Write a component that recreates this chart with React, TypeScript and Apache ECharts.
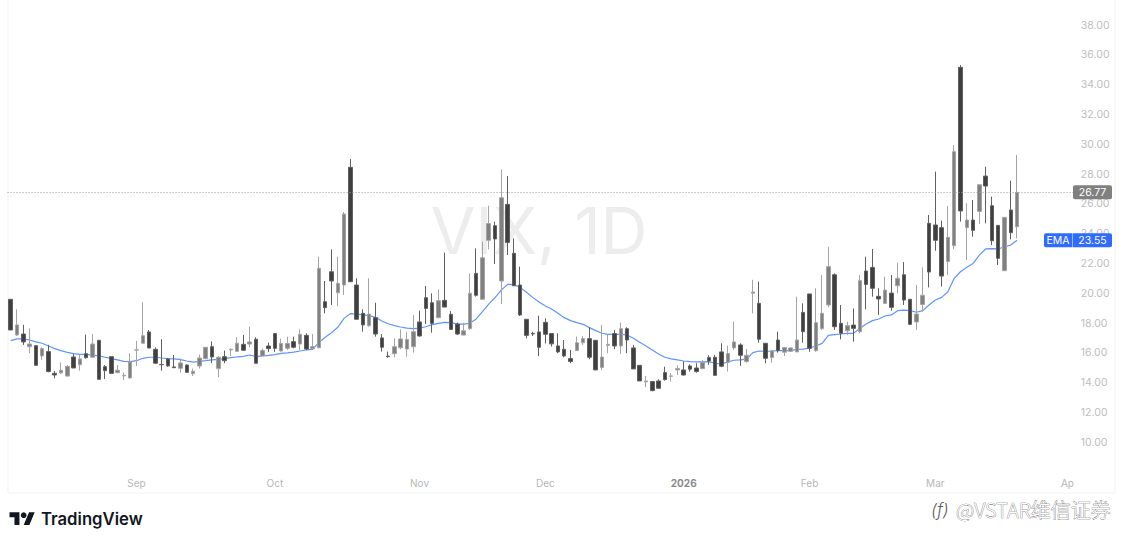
import React, { useEffect, useRef } from "react";
import * as echarts from "echarts";

const opens = [
  19.59, 17.2, 17.26, 16.41, 16.48, 15.79, 16.08, 14.62, 14.65, 14.44,
  15.72, 15.2, 15.94, 15.7, 16.84, 15.07, 15.74, 14.67, 14.45, 14.31,
  16.18, 16.64, 17.4, 16.23, 15.22, 15.59, 15.05, 14.96, 15.18, 14.6,
  15.12, 15.61, 16.41, 14.94, 15.74, 16.19, 16.1, 16.57, 16.59, 16.91,
  15.79, 16.46, 17.29, 16.12, 16.3, 16.75, 16.59, 17.17, 16.28, 16.34,
  19.43, 21.44, 20.03, 20.55, 28.45, 20.55, 18.65, 17.82, 18.36, 17.0,
  15.78, 15.94, 16.34, 16.25, 16.41, 18.07, 19.7, 19.36, 18.36, 19.52,
  18.58, 17.93, 17.19, 17.62, 21.33, 19.59, 23.55, 24.53, 20.82, 25.96,
  22.68, 20.55, 18.25, 17.3, 17.4, 18.04, 17.29, 16.46, 16.24, 15.61,
  16.15, 16.68, 16.95, 16.84, 15.01, 16.5, 17.29, 16.46, 17.62, 16.33,
  15.16, 14.05, 14.07, 14.11, 14.67, 14.42, 14.85, 14.85, 15.12, 14.98,
  14.94, 15.68, 15.7, 16.06, 15.36, 16.33, 16.53, 15.41, 20.0, 19.32,
  16.64, 15.68, 16.86, 16.04, 16.1, 16.06, 18.71, 19.95, 16.14, 17.62,
  19.21, 21.24, 17.98, 17.48, 17.86, 17.42, 21.49, 21.73, 19.79, 19.32,
  20.01, 20.5, 21.24, 19.59, 18.07, 19.25, 24.69, 24.58, 24.4, 22.12,
  23.19, 35.16, 24.4, 24.91, 25.49, 27.86, 25.87, 24.55, 21.51, 25.58,
  24.46,
];
const closes = [
  17.53, 17.87, 16.73, 16.59, 15.16, 16.28, 14.74, 14.51, 14.83, 15.09,
  14.98, 15.59, 15.67, 16.59, 14.22, 14.8, 14.62, 14.83, 14.49, 15.38,
  16.2, 17.15, 16.32, 15.3, 15.2, 15.12, 15.0, 15.32, 14.69, 14.76,
  15.65, 16.37, 15.72, 15.7, 15.47, 16.23, 16.64, 16.17, 16.73, 15.3,
  16.15, 16.28, 16.3, 16.63, 16.63, 16.37, 17.24, 16.25, 16.41, 21.67,
  19.03, 20.82, 20.66, 25.31, 20.77, 18.25, 17.87, 18.6, 17.26, 16.37,
  15.74, 16.41, 16.93, 16.9, 17.42, 17.13, 18.98, 17.98, 19.5, 19.07,
  17.57, 17.26, 17.48, 20.0, 19.86, 22.38, 24.67, 23.64, 26.41, 23.41,
  20.5, 18.54, 17.17, 17.26, 16.37, 17.24, 16.6, 16.06, 15.79, 15.41,
  16.68, 16.95, 15.7, 14.85, 15.72, 16.57, 16.46, 17.62, 16.86, 14.92,
  14.11, 14.11, 13.46, 13.62, 14.2, 14.45, 14.94, 14.51, 14.9, 14.74,
  15.36, 15.45, 14.49, 15.1, 15.95, 16.73, 15.83, 15.83, 20.08, 16.91,
  15.63, 16.13, 16.15, 16.35, 16.33, 16.86, 17.42, 16.3, 18.02, 18.65,
  21.78, 17.75, 17.31, 17.82, 17.64, 20.84, 20.59, 20.33, 19.61, 20.21,
  19.05, 21.0, 19.54, 17.91, 18.6, 19.86, 21.42, 23.55, 21.15, 23.75,
  29.5, 25.52, 24.91, 24.22, 27.28, 27.19, 23.52, 22.34, 25.09, 24.06,
  26.77,
];
const lows = [
  17.53, 17.13, 16.53, 15.97, 15.16, 15.52, 14.69, 14.29, 14.58, 14.4,
  14.98, 14.8, 15.61, 15.7, 14.22, 14.24, 14.62, 14.62, 14.18, 14.27,
  15.12, 16.59, 16.32, 15.25, 14.8, 15.07, 15.0, 14.67, 14.69, 14.44,
  14.94, 15.56, 15.3, 14.36, 15.3, 15.79, 16.06, 16.12, 16.37, 15.3,
  15.79, 16.06, 16.06, 16.08, 16.19, 16.3, 16.19, 16.19, 16.23, 16.3,
  18.65, 19.21, 19.14, 19.88, 20.77, 18.25, 17.42, 17.75, 17.08, 16.08,
  15.67, 15.69, 16.23, 15.74, 16.01, 17.08, 17.93, 17.35, 18.31, 19.07,
  17.53, 17.19, 17.19, 17.53, 19.77, 19.54, 22.94, 21.96, 19.27, 22.56,
  20.5, 18.47, 16.97, 17.13, 15.78, 16.63, 16.42, 15.97, 15.7, 15.3,
  16.15, 16.53, 15.57, 14.85, 14.85, 15.97, 16.24, 15.92, 15.97, 14.92,
  14.11, 13.69, 13.42, 13.58, 14.13, 14.07, 14.51, 14.47, 14.74, 14.67,
  14.89, 15.19, 14.47, 15.03, 14.74, 16.19, 15.12, 15.34, 18.65, 16.68,
  15.3, 15.34, 16.01, 15.79, 16.06, 16.06, 16.68, 16.07, 16.07, 17.53,
  19.05, 17.53, 16.9, 17.19, 16.75, 17.31, 18.92, 19.77, 18.54, 19.27,
  18.83, 20.0, 19.21, 17.86, 17.53, 18.76, 20.39, 22.85, 20.44, 21.22,
  22.94, 24.8, 22.23, 23.79, 24.64, 24.69, 23.23, 21.89, 21.51, 23.61,
  23.68,
];
const highs = [
  19.59, 18.92, 17.87, 17.64, 16.48, 16.37, 16.53, 14.78, 15.36, 15.18,
  15.92, 15.85, 17.22, 17.26, 16.84, 15.18, 15.74, 15.18, 14.67, 15.97,
  16.79, 19.39, 17.53, 16.37, 16.91, 15.63, 15.85, 15.63, 15.22, 14.94,
  15.88, 16.37, 16.77, 15.79, 16.15, 16.3, 17.04, 17.2, 17.76, 17.04,
  16.28, 16.68, 17.29, 16.95, 17.08, 17.08, 17.57, 17.31, 17.26, 22.45,
  20.82, 22.94, 22.45, 25.45, 29.0, 21.0, 18.92, 21.0, 19.36, 17.26,
  16.08, 16.97, 17.57, 17.42, 18.54, 18.83, 20.48, 19.99, 20.26, 22.72,
  18.8, 18.02, 18.02, 21.33, 23.01, 23.46, 25.87, 24.8, 28.31, 27.86,
  23.68, 21.78, 18.25, 17.42, 18.49, 18.31, 17.29, 17.31, 16.86, 16.19,
  17.09, 17.13, 17.71, 16.84, 17.87, 17.2, 17.53, 18.03, 17.71, 16.53,
  15.16, 14.45, 14.11, 14.22, 15.07, 14.63, 15.16, 15.43, 15.23, 15.3,
  15.52, 15.83, 15.86, 16.64, 16.48, 18.09, 16.64, 16.26, 20.9, 20.78,
  16.64, 16.19, 17.42, 16.35, 16.33, 19.77, 19.32, 19.95, 20.33, 21.22,
  23.12, 21.33, 19.21, 18.09, 18.98, 21.22, 22.45, 22.97, 20.33, 21.11,
  21.22, 22.05, 22.09, 19.59, 20.55, 21.73, 25.25, 28.16, 24.87, 25.85,
  29.95, 35.31, 26.03, 26.25, 27.28, 28.49, 26.48, 24.58, 25.09, 27.55,
  29.27,
];
const ema = [
  16.82, 16.93, 16.93, 16.86, 16.73, 16.64, 16.46, 16.28, 16.15, 16.03,
  15.94, 15.9, 15.9, 15.85, 15.79, 15.7, 15.61, 15.52, 15.43, 15.41,
  15.47, 15.63, 15.7, 15.7, 15.65, 15.61, 15.59, 15.54, 15.45, 15.38,
  15.43, 15.47, 15.52, 15.56, 15.61, 15.67, 15.72, 15.76, 15.85, 15.74,
  15.79, 15.83, 15.88, 15.96, 16.0, 16.05, 16.12, 16.19, 16.23, 16.68,
  17.04, 17.35, 17.71, 18.31, 18.63, 18.6, 18.54, 18.49, 18.38, 18.13,
  17.95, 17.82, 17.73, 17.66, 17.62, 17.66, 17.75, 17.89, 17.98, 18.04,
  18.02, 17.93, 17.93, 17.98, 18.27, 18.76, 19.27, 19.7, 20.21, 20.59,
  20.57, 20.39, 20.06, 19.72, 19.41, 19.14, 18.94, 18.65, 18.36, 18.16,
  18.03, 17.91, 17.69, 17.49, 17.31, 17.24, 17.24, 17.24, 17.2, 16.98,
  16.71, 16.46, 16.19, 15.92, 15.7, 15.59, 15.52, 15.45, 15.41, 15.39,
  15.39, 15.41, 15.3, 15.25, 15.39, 15.5, 15.52, 15.57, 16.01, 16.12,
  16.1, 16.12, 16.15, 16.15, 16.15, 16.23, 16.25, 16.32, 16.46, 16.63,
  17.17, 17.22, 17.26, 17.31, 17.31, 17.64, 17.93, 18.16, 18.27, 18.47,
  18.54, 18.83, 18.87, 18.83, 18.72, 18.83, 19.21, 19.54, 19.72, 20.1,
  21.0, 21.44, 21.74, 22.0, 22.56, 22.97, 22.99, 22.97, 23.12, 23.23,
  23.55,
];
const lastClose = 26.77;
const lastEma = 23.55;
const categoryCount = 170;
const monthIndex = [20, 42, 65, 85, 107, 127, 147, 168];
const monthLabels = ["Sep", "Oct", "Nov", "Dec", "2026", "Feb", "Mar", "Ap"];

const FONT = "Inter, 'Noto Sans', sans-serif";
const TV_LOGO = "M14 22H7V11H0V4h14v18ZM28 22h-8l7.5-18h8L28 22Z";

export default function App() {
  const ref = useRef<HTMLDivElement>(null);

  useEffect(() => {
    if (!ref.current) return;
    echarts.graphic.registerShape("tvlogo", echarts.graphic.extendPath(TV_LOGO, {}));
    const chart = echarts.init(ref.current, undefined, { renderer: "svg" });
    const categories = Array.from({ length: categoryCount }, (_, i) => {
      const k = monthIndex.indexOf(i);
      return k >= 0 ? monthLabels[k] : "";
    });
    chart.setOption({
      animation: false,
      backgroundColor: "#ffffff",
      grid: { left: 7.55, right: 47.15, top: 25, bottom: 73, containLabel: false },
      xAxis: {
        type: "category",
        data: categories,
        boundaryGap: true,
        axisLine: { show: false },
        axisTick: { show: false },
        splitLine: { show: false },
        axisLabel: {
          interval: 0,
          margin: 6,
          fontFamily: FONT,
          fontSize: 10,
          color: "#b6b6b6",
          formatter: (v: string) => (v === "2026" ? "{b|2026}" : v),
          rich: { b: { fontFamily: FONT, fontSize: 10, fontWeight: 700, color: "#8a8a8a" } },
        },
      },
      yAxis: {
        type: "value",
        position: "right",
        min: 8,
        max: 38,
        interval: 2,
        axisLine: { show: false },
        axisTick: { show: false },
        splitLine: { show: false },
        axisLabel: {
          margin: 4,
          fontFamily: FONT,
          fontSize: 10.5,
          color: "#bdbdbd",
          formatter: (v: number) => (v < 10 ? "" : v.toFixed(2)),
        },
      },
      series: [
        {
          name: "EMA",
          type: "line",
          data: ema,
          z: 1,
          showSymbol: false,
          symbol: "none",
          lineStyle: { color: "#5f94ff", width: 1.2 },
          silent: true,
        },
        {
          name: "VIX",
          type: "candlestick",
          z: 2,
          barWidth: 4,
          data: opens.map((o, i) => [o, closes[i], lows[i], highs[i]]),
          itemStyle: {
            color: "#808080",
            color0: "#404040",
            borderColor: "#a4a4a4",
            borderColor0: "#606060",
            borderWidth: 1,
          },
          markLine: {
            silent: true,
            symbol: "none",
            label: { show: false },
            lineStyle: { color: "#9a9a9a", type: [1, 2], width: 1 },
            data: [{ yAxis: lastClose }],
          },
        },
      ],
    });
    const yClose = chart.convertToPixel({ yAxisIndex: 0 }, lastClose) as number;
    const yEma = chart.convertToPixel({ yAxisIndex: 0 }, lastEma) as number;
    const tagText = (x: number, y: number, text: string) => ({
      type: "text",
      z: 22,
      x,
      y,
      style: { text, fill: "#ffffff", font: `10.5px ${FONT}`, textAlign: "center", textVerticalAlign: "middle" },
    });
    chart.setOption({
      graphic: [
        { type: "rect", z: 0, silent: true, shape: { x: 8, y: -5, width: 1107, height: 498 }, style: { fill: "none", stroke: "#f1f1f1", lineWidth: 1 } },
        { type: "text", z: 0, x: 539, y: 230, style: { text: "VIX, 1D", fill: "#ededed", font: `65px ${FONT}`, textAlign: "center", textVerticalAlign: "middle" } },
        { type: "rect", z: 21, shape: { x: 1073, y: yClose - 7, width: 39, height: 14, r: 2 }, style: { fill: "#808080" } },
        tagText(1092.5, yClose, lastClose.toFixed(2)),
        { type: "rect", z: 21, shape: { x: 1044, y: yEma - 7, width: 28.5, height: 14, r: [2, 0, 0, 2] }, style: { fill: "#2f6bff" } },
        tagText(1058, yEma, "EMA"),
        { type: "rect", z: 21, shape: { x: 1073, y: yEma - 7, width: 39, height: 14, r: [0, 2, 2, 0] }, style: { fill: "#2f6bff" } },
        tagText(1092.5, yEma, lastEma.toFixed(2)),
        { type: "tvlogo", z: 5, x: 9.5, y: 509.5, scaleX: 0.71, scaleY: 0.71, style: { fill: "#131722" } },
        { type: "circle", z: 5, x: 9.5, y: 509.5, scaleX: 0.71, scaleY: 0.71, shape: { cx: 20, cy: 8, r: 4 }, style: { fill: "#131722" } },
        { type: "text", z: 5, x: 41, y: 519, style: { text: "TradingView", fill: "#131722", font: `600 16.7px ${FONT}`, textVerticalAlign: "middle" } },
        { type: "text", z: 5, x: 931, y: 510, style: { text: "(f)", fill: "#5f5f5f", font: `italic 300 17px ${FONT}`, textVerticalAlign: "middle" } },
        { type: "text", z: 5, x: 956, y: 509, style: { text: "@VSTAR维信证券", fill: "#ffffff", stroke: "#555555", lineWidth: 0.6, font: `300 20px 'Noto Sans CJK SC', ${FONT}`, textVerticalAlign: "middle" } },
      ],
    });
    return () => chart.dispose();
  }, []);

  return <div ref={ref} style={{ position: "fixed", left: 0, top: 0, width: 1124, height: 545 }} />;
}
